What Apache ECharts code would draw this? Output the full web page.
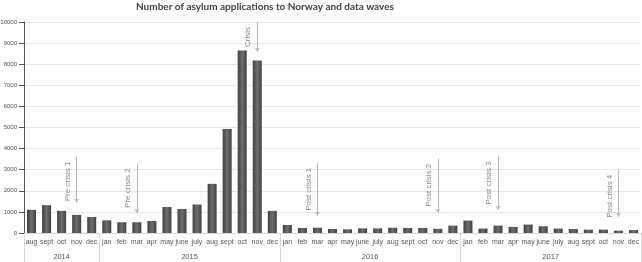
<!DOCTYPE html>
<html>
<head>
<meta charset="utf-8">
<script src="https://cdn.jsdelivr.net/npm/echarts@6/dist/echarts.min.js"></script>
<style>
  html, body { margin: 0; padding: 0; background: #fff; }
  #main { width: 642px; height: 262px; }
</style>
</head>
<body>
<div id="main"></div>
<script>
var months = ['aug', 'sept', 'oct', 'nov', 'dec',
    'jan', 'feb', 'mar', 'apr', 'may', 'june', 'july', 'aug', 'sept', 'oct', 'nov', 'dec',
    'jan', 'feb', 'mar', 'apr', 'may', 'june', 'july', 'aug', 'sept', 'oct', 'nov', 'dec',
    'jan', 'feb', 'mar', 'apr', 'may', 'june', 'july', 'aug', 'sept', 'oct', 'nov', 'dec'];
var applications = [1100, 1320, 1050, 860, 760,
    600, 510, 510, 570, 1230, 1140, 1350, 2330, 4930, 8650, 8170, 1050,
    380, 240, 250, 190, 175, 220, 220, 250, 240, 240, 200, 350,
    590, 210, 350, 290, 400, 320, 210, 190, 160, 160, 110, 140];
var years = ['2014', '2015', '2016', '2017'];
var monthsPerYear = [5, 12, 12, 12];

// data waves: label, category index, arrow top, arrow tip
var waveNames = ['Pre crisis 1', 'Pre crisis 2', 'Crisis', 'Post crisis 1', 'Post crisis 2', 'Post crisis 3', 'Post crisis 4'];
var waveIndex = [3, 7, 15, 19, 27, 31, 39];
var waveTop = [3620, 3300, 10000, 3330, 3520, 3620, 3000];
var waveTip = [1440, 960, 8590, 820, 960, 1100, 770];

var yearBounds = [0];
var yearCenters = [];
monthsPerYear.forEach(function (n, i) {
    yearCenters.push(yearBounds[i] + n / 2);
    yearBounds.push(yearBounds[i] + n);
});

var waveLines = waveNames.map(function (name, i) {
    return [
        { coord: [waveIndex[i], waveTip[i]] },
        { coord: [waveIndex[i], waveTop[i]], label: { formatter: name } }
    ];
});

var myChart = echarts.init(document.getElementById('main'));
var option = {
    animation: false,
    title: {
        text: 'Number of asylum applications to Norway and data waves',
        left: 131,
        top: -3,
        textStyle: {
            fontFamily: 'Lato',
            fontSize: 10,
            fontWeight: 'bold',
            color: '#404040'
        }
    },
    grid: {
        left: 24,
        right: 1,
        top: 22,
        bottom: 29,
        outerBoundsMode: 'none'
    },
    xAxis: [{
        type: 'category',
        data: months,
        axisTick: { show: false },
        axisLine: { lineStyle: { color: '#d9d9d9' } },
        axisLabel: {
            interval: 0,
            color: '#555',
            fontSize: 7,
            margin: 6,
            fontFamily: 'Liberation Sans'
        }
    }, {
        type: 'value',
        min: 0,
        max: monthsPerYear.reduce(function (a, b) { return a + b; }, 0),
        position: 'bottom',
        axisLine: { show: false },
        splitLine: { show: false },
        axisTick: {
            show: true,
            customValues: yearBounds,
            length: 29,
            lineStyle: { color: '#d9d9d9' }
        },
        axisLabel: {
            customValues: yearCenters,
            formatter: function (v) {
                return years[yearCenters.indexOf(v)];
            },
            color: '#555',
            fontSize: 7.5,
            margin: 20,
            fontFamily: 'Liberation Sans'
        }
    }],
    yAxis: {
        type: 'value',
        min: 0,
        max: 10000,
        interval: 1000,
        axisLabel: {
            formatter: function (v) { return String(v); },
            color: '#555',
            fontSize: 6,
            margin: 7,
            fontFamily: 'Liberation Sans'
        },
        splitLine: { lineStyle: { color: '#e8e8e8' } }
    },
    series: [{
        type: 'bar',
        data: applications,
        xAxisIndex: 0,
        barWidth: 9,
        itemStyle: {
            color: new echarts.graphic.LinearGradient(0, 0, 1, 0, [
                { offset: 0, color: '#404040' },
                { offset: 0.5, color: '#6e6e6e' },
                { offset: 1, color: '#404040' }
            ])
        },
        markLine: {
            silent: true,
            symbol: ['arrow', 'none'],
            symbolSize: 4,
            lineStyle: { color: '#b8b8b8', width: 1, type: 'solid' },
            label: {
                position: 'insideEndTop',
                distance: 5,
                color: '#8a8a8a',
                fontSize: 8,
                fontFamily: 'Liberation Sans'
            },
            data: waveLines
        }
    }]
};
myChart.setOption(option);
</script>
</body>
</html>
